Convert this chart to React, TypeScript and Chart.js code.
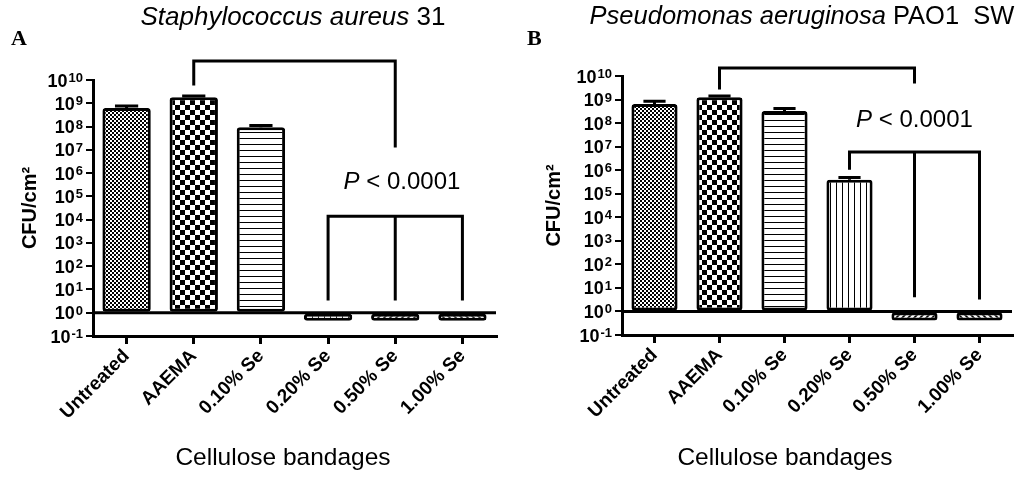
import React, { useEffect, useRef } from "react";
import { Chart, registerables } from "chart.js";

Chart.register(...registerables);

const FONT = "'Liberation Sans', Arial, sans-serif";

const categories = ["Untreated", "AAEMA", "0.10% Se", "0.20% Se", "0.50% Se", "1.00% Se"];
const decades = [-1, 0, 1, 2, 3, 4, 5, 6, 7, 8, 9, 10];
const patternKinds = ["fineCheck", "coarseCheck", "hlines", "vlines", "diagF", "diagB"];

// CFU/cm2, means and top of the error bars (panel A: S. aureus 31)
const saureusMeans = [6.3e8, 1.8e9, 9.3e7, 0.45, 0.45, 0.45];
const saureusUpper = [7.6e8, 2.05e9, 1.1e8, null, null, null];

// panel B: P. aeruginosa PAO1 SW
const paeruginosaMeans = [6.5e8, 1.25e9, 3.3e8, 3.9e5, 0.41, 0.41];
const paeruginosaUpper = [8.5e8, 1.4e9, 4.2e8, 4.9e5, null, null];

type Bracket = { y: number; legs: [number, number][] };

const saureusBrackets: Bracket[] = [
  { y: 6.6e10, legs: [[1, 6.7e9], [4, 1.45e7]] },
  { y: 1.4e4, legs: [[3, 3.9], [4, 3.9], [5, 3.9]] },
];
const paeruginosaBrackets: Bracket[] = [
  { y: 2.2e10, legs: [[1, 3.1e9], [4, 5.5e9]] },
  { y: 5.9e6, legs: [[3, 1.2e6], [4, 4.6], [5, 3.7]] },
];

function makePattern(ctx: CanvasRenderingContext2D, kind: string) {
  const c = document.createElement("canvas");
  const size = kind === "fineCheck" ? 4 : kind === "coarseCheck" ? 10 : 6;
  c.width = size;
  c.height = size;
  const g = c.getContext("2d")!;
  g.fillStyle = "#fff";
  g.fillRect(0, 0, size, size);
  g.fillStyle = "#000";
  g.strokeStyle = "#000";
  if (kind === "fineCheck" || kind === "coarseCheck") {
    const h = size / 2;
    g.fillRect(0, 0, h, h);
    g.fillRect(h, h, h, h);
  } else if (kind === "hlines") {
    g.fillRect(0, 0, size, 1);
  } else if (kind === "vlines") {
    g.fillRect(0, 0, 1, size);
  } else {
    g.lineWidth = 1.6;
    g.beginPath();
    if (kind === "diagF") {
      g.moveTo(-1, size + 1); g.lineTo(size + 1, -1);
      g.moveTo(-1, 1); g.lineTo(1, -1);
      g.moveTo(size - 1, size + 1); g.lineTo(size + 1, size - 1);
    } else {
      g.moveTo(-1, -1); g.lineTo(size + 1, size + 1);
      g.moveTo(size - 1, -1); g.lineTo(size + 1, 1);
      g.moveTo(-1, size - 1); g.lineTo(1, size + 1);
    }
    g.stroke();
  }
  return ctx.createPattern(c, "repeat")!;
}

type PanelProps = {
  left: number;
  means: number[];
  upper: (number | null)[];
  brackets: Bracket[];
  pIndex: number;
  pValue: number;
  top: number;
  plotLeft: number;
  titleLeft: number;
  padRight: number;
  xHeight: number;
  barPct: number;
};

function Panel(props: PanelProps) {
  const canvasRef = useRef<HTMLCanvasElement>(null);

  useEffect(() => {
    const canvas = canvasRef.current;
    if (!canvas) return;
    const ctx = canvas.getContext("2d")!;
    const fills = patternKinds.map((k) => makePattern(ctx, k));
    const { means, upper, brackets, pIndex, pValue } = props;

    const overlay = {
      id: "overlay",
      afterDraw(chart: any) {
        const c: CanvasRenderingContext2D = chart.ctx;
        const area = chart.chartArea;
        const xs = chart.scales.x;
        const ys = chart.scales.y;
        c.save();
        c.strokeStyle = "#000";
        c.fillStyle = "#000";
        c.lineWidth = 3;
        c.lineCap = "butt";

        // 10^0 reference line
        const y0 = ys.getPixelForValue(1);
        c.beginPath();
        c.moveTo(area.left, y0);
        c.lineTo(area.right, y0);
        c.stroke();

        // error bars (upper only)
        chart.getDatasetMeta(0).data.forEach((el: any, i: number) => {
          const u = upper[i];
          if (u == null) return;
          const { x, y, width } = el.getProps(["x", "y", "width"], true);
          const yu = ys.getPixelForValue(u);
          c.beginPath();
          c.moveTo(x, y);
          c.lineTo(x, yu);
          c.moveTo(x - width * 0.24, yu);
          c.lineTo(x + width * 0.24, yu);
          c.stroke();
        });

        // significance brackets
        c.lineCap = "square";
        brackets.forEach((b) => {
          const yb = ys.getPixelForValue(b.y);
          const xsLegs = b.legs.map(([i]) => xs.getPixelForValue(i));
          c.beginPath();
          c.moveTo(Math.min(...xsLegs), yb);
          c.lineTo(Math.max(...xsLegs), yb);
          b.legs.forEach(([i, bottom]) => {
            const lx = xs.getPixelForValue(i);
            c.moveTo(lx, yb);
            c.lineTo(lx, ys.getPixelForValue(bottom));
          });
          c.stroke();
        });

        // P value label
        const pi = Math.floor(pIndex);
        const frac = pIndex - pi;
        const px0 = xs.getPixelForValue(pi);
        const px1 = xs.getPixelForValue(Math.min(pi + 1, categories.length - 1));
        const px = px0 + (px1 - px0) * frac;
        const py = ys.getPixelForValue(pValue);
        c.textBaseline = "middle";
        c.textAlign = "left";
        c.font = `italic 24px ${FONT}`;
        const wP = c.measureText("P").width;
        c.font = `24px ${FONT}`;
        const rest = " < 0.0001";
        const wR = c.measureText(rest).width;
        const sx = px - (wP + wR) / 2;
        c.font = `italic 24px ${FONT}`;
        c.fillText("P", sx, py);
        c.font = `24px ${FONT}`;
        c.fillText(rest, sx + wP, py);

        // y tick labels as 10 with superscript exponent
        decades.forEach((d) => {
          const ty = ys.getPixelForValue(Math.pow(10, d));
          const right = area.left - 10;
          c.textBaseline = "alphabetic";
          c.textAlign = "right";
          c.font = `bold 13px ${FONT}`;
          const exp = String(d);
          const we = c.measureText(exp).width;
          c.fillText(exp, right, ty + 2);
          c.font = `bold 18px ${FONT}`;
          c.fillText("10", right - we - 1, ty + 6.5);
        });
        c.restore();
      },
    };

    const chart = new Chart(canvas, {
      type: "bar",
      data: {
        labels: categories,
        datasets: [
          {
            data: means,
            base: 1,
            backgroundColor: fills,
            borderColor: "#000",
            borderWidth: 3,
            borderRadius: 3,
            borderSkipped: false,
            barPercentage: props.barPct,
            categoryPercentage: 1,
          } as any,
        ],
      },
      options: {
        responsive: false,
        animation: false,
        events: [],
        layout: {
          padding: { top: props.top, left: props.titleLeft, right: props.padRight, bottom: 0 },
        },
        plugins: { legend: { display: false }, tooltip: { enabled: false } },
        scales: {
          x: {
            offset: true,
            grid: {
              display: true,
              drawOnChartArea: false,
              offset: false,
              tickLength: 8,
              lineWidth: 3,
              color: "#000",
            },
            border: { display: true, width: 3, color: "#000" },
            ticks: {
              color: "#000",
              minRotation: 45,
              maxRotation: 45,
              autoSkip: false,
              padding: 1,
              font: { family: FONT, size: 19, weight: "bold" },
            },
            afterFit: (s: any) => {
              s.height = props.xHeight;
            },
          },
          y: {
            type: "logarithmic",
            min: 0.1,
            max: 1e10,
            afterBuildTicks: (s: any) => {
              s.ticks = decades.map((d) => ({ value: Math.pow(10, d) }));
            },
            afterFit: (s: any) => {
              s.width = props.plotLeft - props.titleLeft;
            },
            ticks: { autoSkip: false, callback: () => "" },
            grid: {
              display: true,
              drawOnChartArea: false,
              tickLength: 7,
              lineWidth: 2,
              color: "#000",
            },
            border: { display: true, width: 3, color: "#000" },
            title: {
              display: true,
              text: "CFU/cm²",
              color: "#000",
              font: { family: FONT, size: 20, weight: "bold" },
            },
          },
        },
      },
      plugins: [overlay],
    });

    return () => chart.destroy();
  }, []);

  return (
    <canvas
      ref={canvasRef}
      width={512}
      height={480}
      style={{ position: "absolute", left: props.left, top: 0, width: 512, height: 480 }}
    />
  );
}

const textBase: React.CSSProperties = {
  position: "absolute",
  fontFamily: FONT,
  color: "#000",
  whiteSpace: "pre",
  lineHeight: 1,
};

export default function App() {
  return (
    <div
      style={{
        position: "fixed",
        left: 0,
        top: 0,
        width: 1024,
        height: 480,
        background: "#fff",
        overflow: "hidden",
      }}
    >
      <Panel
        left={0}
        means={saureusMeans}
        upper={saureusUpper}
        brackets={saureusBrackets}
        pIndex={4.1}
        pValue={4e5}
        top={80}
        plotLeft={93}
        titleLeft={14}
        padRight={16}
        xHeight={144}
        barPct={0.72}
      />
      <Panel
        left={512}
        means={paeruginosaMeans}
        upper={paeruginosaUpper}
        brackets={paeruginosaBrackets}
        pIndex={4}
        pValue={1.35e8}
        top={76}
        plotLeft={110}
        titleLeft={26}
        padRight={12}
        xHeight={145}
        barPct={0.71}
      />

      <div style={{ ...textBase, left: 0, width: 586, top: 3, fontSize: 26, textAlign: "center" }}>
        <i>Staphylococcus aureus</i> 31
      </div>
      <div style={{ ...textBase, left: 512, width: 580, top: 3, fontSize: 25.5, textAlign: "center" }}>
        <i>Pseudomonas aeruginosa</i>{" PAO1  SW"}
      </div>
      <div style={{ ...textBase, left: 11, top: 27, fontSize: 22, fontWeight: "bold", fontFamily: "'Liberation Serif', 'Times New Roman', serif" }}>
        A
      </div>
      <div style={{ ...textBase, left: 527, top: 27, fontSize: 22, fontWeight: "bold", fontFamily: "'Liberation Serif', 'Times New Roman', serif" }}>
        B
      </div>
      <div style={{ ...textBase, left: 0, width: 566, top: 445, fontSize: 24.5, textAlign: "center" }}>
        Cellulose bandages
      </div>
      <div style={{ ...textBase, left: 512, width: 546, top: 445, fontSize: 24.5, textAlign: "center" }}>
        Cellulose bandages
      </div>
    </div>
  );
}
